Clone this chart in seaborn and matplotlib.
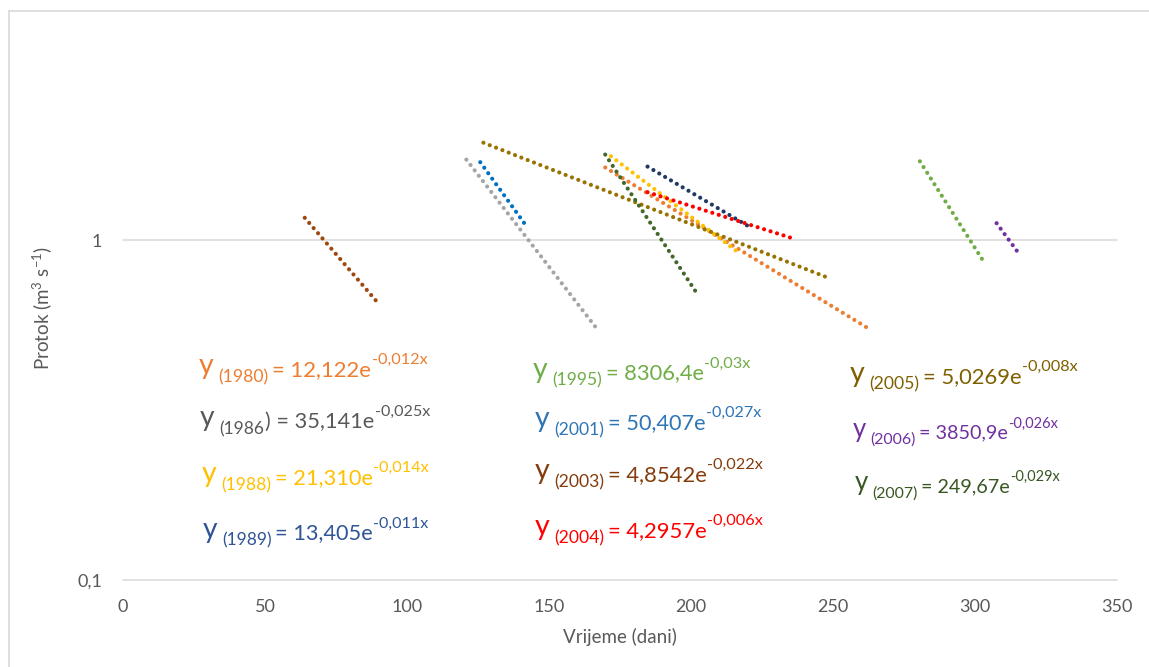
import matplotlib
matplotlib.use("Agg")
import matplotlib.pyplot as plt
from matplotlib.lines import Line2D
from matplotlib.ticker import NullLocator
import seaborn as sns
import pandas as pd

# ---------------- data ----------------
years = ["1980", "1986", "1988", "1989", "1995", "2001", "2003", "2004", "2005", "2006", "2007"]
x_start = [169.8, 120.9, 171.8, 184.7, 280.6, 125.8, 64.0, 184.7, 126.9, 307.6, 169.8]
x_end = [263.0, 167.4, 215.7, 220.8, 303.3, 142.1, 89.0, 235.2, 247.3, 315.4, 202.0]
y_start = [1.64, 1.73, 1.77, 1.65, 1.71, 1.70, 1.166, 1.387, 1.94, 1.124, 1.79]
y_end = [0.547, 0.542, 0.935, 1.094, 0.86, 1.10, 0.666, 1.018, 0.782, 0.916, 0.70]

sub_labels = ["(1980)", "(1986", "(1988)", "(1989)", "(1995)", "(2001)", "(2003)", "(2004)", "(2005)", "(2006)", "(2007)"]
main_prefix = ["=", ") =", "=", "=", "=", "=", "=", "=", "=", "=", "="]
coefs = ["12,122", "35,141", "21,310", "13,405", "8306,4", "50,407", "4,8542", "4,2957", "5,0269", "3850,9", "249,67"]
exponents = ["-0,012x", "-0,025x", "-0,014x", "-0,011x", "-0,03x", "-0,027x", "-0,022x", "-0,006x", "-0,008x", "-0,026x", "-0,029x"]

x_ticks = [0, 50, 100, 150, 200, 250, 300, 350]
y_ticks = [0.1, 1]
y_tick_labels = ["0,1", "1"]

# ---------------- styles ----------------
line_colors = ["#ED7D31", "#A5A5A5", "#FFC000", "#1F3864", "#70AD47", "#0070C0",
               "#9E480E", "#FF0000", "#997300", "#7030A0", "#43682B"]
text_colors = ["#ED7D31", "#595959", "#FFC000", "#2F5597", "#70AD47", "#2E75B6",
               "#843C0C", "#FF0000", "#7F6000", "#7030A0", "#385723"]
# (left px, main baseline px, total width px)
eq_layout = [(199, 376, 228), (200, 428, 230), (201.7, 484, 227), (202.7, 539.5, 226),
             (533, 379.5, 218), (535, 429, 226), (535, 481, 228), (535, 537, 228),
             (850, 383.5, 228), (852.7, 438.5, 205), (855, 492, 205)]

W, H = 1149, 667
sns.set_theme(style="white")
plt.rcParams["font.family"] = ["Lato", "DejaVu Sans"]
plt.rcParams["mathtext.fontset"] = "custom"
plt.rcParams["mathtext.rm"] = "Lato"
plt.rcParams["mathtext.it"] = "Lato:italic"
plt.rcParams["mathtext.bf"] = "Lato:bold"

fig = plt.figure(figsize=(W / 100, H / 100), dpi=100)
fig.patch.set_facecolor("white")
ax = fig.add_axes([123 / W, 1 - 580 / H, 994 / W, 544 / H])

df = pd.DataFrame({
    "year": [y for y in years for _ in range(2)],
    "x": [v for a, b in zip(x_start, x_end) for v in (a, b)],
    "y": [v for a, b in zip(y_start, y_end) for v in (a, b)],
})

ax.set_yscale("log")
sns.lineplot(data=df, x="x", y="y", hue="year", palette=dict(zip(years, line_colors)),
             estimator=None, sort=False, legend=False, linewidth=3.0,
             linestyle=(0, (0.01, 1.62)), dash_capstyle="round", ax=ax, zorder=3)

ax.set_xlim(0, 350)
ax.set_ylim(0.1, 4)
ax.set_xticks(x_ticks)
ax.set_xticklabels([str(t) for t in x_ticks])
ax.set_yticks(y_ticks)
ax.set_yticklabels(y_tick_labels)
ax.yaxis.set_minor_locator(NullLocator())
ax.grid(False)
ax.grid(axis="y", which="major", color="#D9D9D9", linewidth=1.1)
for gl in ax.get_ygridlines():
    gl.set_clip_on(False)
for s in ax.spines.values():
    s.set_visible(False)
ax.tick_params(axis="both", length=0, labelsize=13, labelcolor="#595959")
ax.tick_params(axis="x", pad=14)
ax.tick_params(axis="y", pad=15)

ax.set_xlabel("Vrijeme (dani)", fontsize=13.5, color="#595959")
ax.set_ylabel("Protok (m$^{3}$ s$^{-1}$)", fontsize=13.5, color="#595959")
ax.xaxis.set_label_coords(0.5, -0.088)
ax.yaxis.set_label_coords(-0.069, 0.5)

# chart-area border (top and left visible in the crop)
fig.add_artist(Line2D([8.5 / W, 1.0], [1 - 11 / H, 1 - 11 / H], transform=fig.transFigure,
                      color="#D9D9D9", linewidth=1.2))
fig.add_artist(Line2D([8.5 / W, 8.5 / W], [1 - 11 / H, 0.0], transform=fig.transFigure,
                      color="#D9D9D9", linewidth=1.2))

# ---------------- equations ----------------
base = 12.0
all_groups = []
for i in range(len(years)):
    xp, bp, wp = eq_layout[i]
    main_gap = 0.04 if main_prefix[i].startswith(")") else 0.15
    pieces = [
        ("y", 1.3, 0.08, 0.0),
        (sub_labels[i], 0.8, -0.28, 0.22),
        (main_prefix[i] + " " + coefs[i] + "e", 1.0, 0.0, main_gap),
        (exponents[i], 0.74, 0.55, 0.03),
    ]
    group = []
    prev = None
    for txt, sf, dyf, gf in pieces:
        if prev is None:
            a = ax.annotate(txt, xy=(xp, H - bp), xycoords="figure pixels",
                            xytext=(0, dyf * base), textcoords="offset points",
                            fontsize=sf * base, color=text_colors[i], va="baseline",
                            ha="left", annotation_clip=False)
        else:
            a = ax.annotate(txt, xy=(1, H - bp), xycoords=(prev, "figure pixels"),
                            xytext=(gf * base, dyf * base), textcoords="offset points",
                            fontsize=sf * base, color=text_colors[i], va="baseline",
                            ha="left", annotation_clip=False)
        group.append(a)
        prev = a
    all_groups.append((group, wp))

fig.canvas.draw()
for group, wp in all_groups:
    left = group[0].get_window_extent().x0
    right = group[-1].get_window_extent().x1
    f = wp / (right - left)
    for a in group:
        a.set_fontsize(a.get_fontsize() * f)
        dx, dy = a.xyann
        a.xyann = (dx * f, dy * f)

fig.savefig("out.png", dpi=100, facecolor="white")
